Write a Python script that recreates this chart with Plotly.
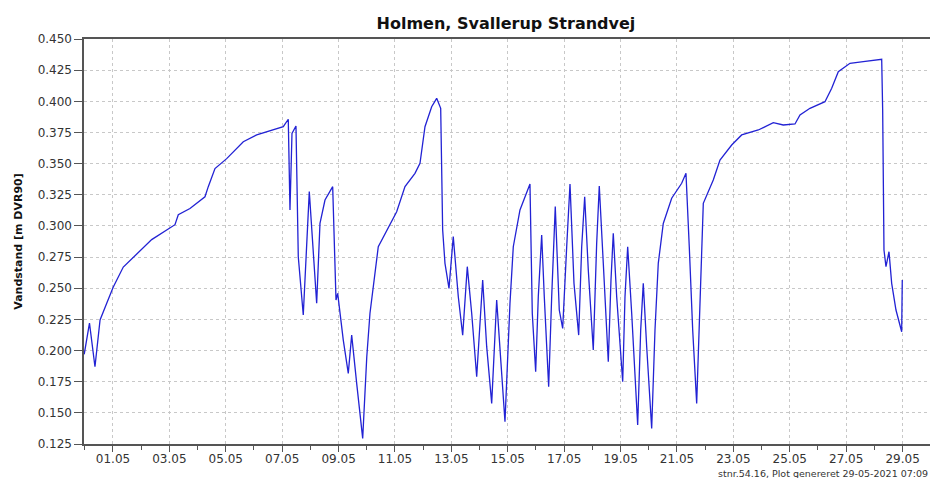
import plotly.graph_objects as go

TITLE = "Holmen, Svallerup Strandvej"
Y_TITLE = "Vandstand [m DVR90]"
FOOTNOTE = "stnr.54.16, Plot genereret 29-05-2021 07:09"

times = [
    "2021-04-29 23:30", "2021-04-30 04:00", "2021-04-30 08:40", "2021-04-30 10:30",
    "2021-04-30 13:00", "2021-04-30 18:40", "2021-05-01 00:15", "2021-05-01 08:46",
    "2021-05-01 17:17", "2021-05-02 08:56", "2021-05-03 04:46", "2021-05-03 07:35",
    "2021-05-03 17:31", "2021-05-04 06:17", "2021-05-04 09:06", "2021-05-04 14:48",
    "2021-05-05 00:46", "2021-05-05 14:54", "2021-05-06 02:18", "2021-05-06 13:36",
    "2021-05-07 00:56", "2021-05-07 05:11", "2021-05-07 06:38", "2021-05-07 08:21",
    "2021-05-07 11:44", "2021-05-07 13:42", "2021-05-07 17:57", "2021-05-07 23:04",
    "2021-05-08 05:21", "2021-05-08 08:10", "2021-05-08 12:26", "2021-05-08 18:59",
    "2021-05-08 21:48", "2021-05-08 23:14", "2021-05-09 04:00", "2021-05-09 08:15",
    "2021-05-09 11:09", "2021-05-09 15:24", "2021-05-09 20:31", "2021-05-10 00:00",
    "2021-05-10 02:43", "2021-05-10 09:47", "2021-05-10 16:57", "2021-05-11 01:26",
    "2021-05-11 08:31", "2021-05-11 17:01", "2021-05-11 21:17", "2021-05-12 01:32",
    "2021-05-12 07:14", "2021-05-12 11:29", "2021-05-12 14:54", "2021-05-12 16:35",
    "2021-05-12 18:33", "2021-05-12 21:58", "2021-05-13 01:36", "2021-05-13 05:53",
    "2021-05-13 09:37", "2021-05-13 13:32", "2021-05-13 17:17", "2021-05-13 21:32",
    "2021-05-14 02:38", "2021-05-14 06:03", "2021-05-14 10:18", "2021-05-14 14:33",
    "2021-05-14 18:13", "2021-05-14 21:37", "2021-05-15 01:52", "2021-05-15 04:41",
    "2021-05-15 10:23", "2021-05-15 18:53", "2021-05-15 20:51", "2021-05-15 23:44",
    "2021-05-16 01:58", "2021-05-16 04:51", "2021-05-16 07:04", "2021-05-16 10:48",
    "2021-05-16 13:22", "2021-05-16 16:25", "2021-05-16 19:49", "2021-05-16 22:43",
    "2021-05-17 02:08", "2021-05-17 04:57", "2021-05-17 08:21", "2021-05-17 12:20",
    "2021-05-17 14:54", "2021-05-17 17:27", "2021-05-17 20:31", "2021-05-18 00:46",
    "2021-05-18 03:39", "2021-05-18 05:52", "2021-05-18 09:17", "2021-05-18 13:32",
    "2021-05-18 15:50", "2021-05-18 17:47", "2021-05-18 20:41", "2021-05-19 01:48",
    "2021-05-19 03:45", "2021-05-19 06:03", "2021-05-19 09:27", "2021-05-19 14:33",
    "2021-05-19 17:07", "2021-05-19 19:19", "2021-05-19 22:13", "2021-05-20 02:28",
    "2021-05-20 05:17", "2021-05-20 08:05", "2021-05-20 12:20", "2021-05-20 19:29",
    "2021-05-21 04:00", "2021-05-21 07:39", "2021-05-21 10:28", "2021-05-21 13:22",
    "2021-05-21 16:46", "2021-05-21 19:35", "2021-05-21 22:24", "2021-05-22 06:53",
    "2021-05-22 12:36", "2021-05-22 22:33", "2021-05-23 07:03", "2021-05-23 21:12",
    "2021-05-24 09:58", "2021-05-24 18:28", "2021-05-25 04:25", "2021-05-25 08:41",
    "2021-05-25 17:11", "2021-05-26 05:57", "2021-05-26 11:40", "2021-05-26 17:17",
    "2021-05-27 03:14", "2021-05-27 14:33", "2021-05-28 06:13", "2021-05-28 07:03",
    "2021-05-28 08:10", "2021-05-28 09:52", "2021-05-28 12:26", "2021-05-28 14:43",
    "2021-05-28 18:23", "2021-05-28 23:14", "2021-05-28 23:44",
]

levels = [
    0.197, 0.222, 0.187, 0.205,
    0.2245, 0.238, 0.251, 0.267,
    0.275, 0.289, 0.301, 0.309,
    0.314, 0.3234, 0.3315, 0.346,
    0.354, 0.3676, 0.373, 0.3764,
    0.3796, 0.3856, 0.3128, 0.3743,
    0.3802, 0.2753, 0.2285, 0.3275,
    0.2379, 0.302, 0.3208, 0.3315,
    0.2405, 0.2459, 0.2084, 0.1817,
    0.2124, 0.1737, 0.1295, 0.195,
    0.2299, 0.2833, 0.2967, 0.3114,
    0.3315, 0.3422, 0.3502, 0.3796,
    0.3957, 0.4024, 0.3944, 0.2967,
    0.270, 0.2499, 0.2914, 0.2432,
    0.2124, 0.2673, 0.2299, 0.179,
    0.2566, 0.2031, 0.1576, 0.2405,
    0.1897, 0.1429, 0.2379, 0.2833,
    0.3128, 0.3336, 0.2299, 0.183,
    0.2432, 0.2927, 0.2432, 0.171,
    0.2432, 0.3155, 0.2325, 0.2178,
    0.2833, 0.3336, 0.2539, 0.2124,
    0.2833, 0.3234, 0.2646, 0.2004,
    0.286, 0.332, 0.270, 0.191,
    0.2566, 0.2941, 0.2432, 0.175,
    0.2432, 0.2833, 0.2299, 0.1402,
    0.2165, 0.2539, 0.2031, 0.1375,
    0.2165, 0.270, 0.302, 0.3222,
    0.3342, 0.3422, 0.2833, 0.2165,
    0.1576, 0.2432, 0.3181, 0.3369,
    0.3529, 0.3649, 0.373, 0.377,
    0.3828, 0.381, 0.3818, 0.389,
    0.3944, 0.3997, 0.4104, 0.4238,
    0.4305, 0.4318, 0.4337, 0.393,
    0.2807, 0.2673, 0.2793, 0.2539,
    0.2325, 0.2151, 0.2566,
]

x_range = ["2021-04-29 23:20", "2021-05-29 23:20"]
y_range = [0.125, 0.450]

FONT = "DejaVu Sans"
AXIS_COLOR = "#555555"
TEXT_COLOR = "#333333"
GRID_COLOR = "#c8c8c8"

fig = go.Figure()
fig.add_trace(go.Scatter(
    x=times, y=levels, mode="lines",
    line=dict(color="#2222d4", width=1.3),
    hoverinfo="skip", showlegend=False,
))

fig.update_layout(
    width=930, height=478, autosize=False,
    margin=dict(l=84, r=0, t=39, b=34),
    paper_bgcolor="white", plot_bgcolor="white",
    font=dict(family=FONT, size=12, color=TEXT_COLOR),
    title=dict(text="<b>" + TITLE + "</b>", x=0.544, xanchor="center",
               y=1 - 23 / 478, yanchor="middle",
               font=dict(family=FONT, size=16, color="#111111")),
)

fig.update_xaxes(
    type="date", range=x_range,
    tick0="2021-05-01", dtick=2 * 86400000, tickformat="%d.%m",
    ticks="outside", ticklen=6, tickcolor=AXIS_COLOR, tickwidth=1,
    ticklabelstandoff=-3,
    showline=True, linecolor=AXIS_COLOR, linewidth=1.6, mirror=True,
    showgrid=True, gridcolor=GRID_COLOR, griddash="3px,3px", gridwidth=1,
    minor=dict(dtick=86400000, tick0="2021-05-01", ticks="outside", ticklen=4,
               tickcolor=AXIS_COLOR, showgrid=False),
    tickfont=dict(family=FONT, size=12, color=TEXT_COLOR),
    zeroline=False, fixedrange=True,
)

fig.update_yaxes(
    range=y_range, tick0=0.125, dtick=0.025, tickformat=".3f",
    ticks="outside", ticklen=8, tickcolor=AXIS_COLOR, tickwidth=1,
    showline=True, linecolor=AXIS_COLOR, linewidth=1.6,
    showgrid=True, gridcolor=GRID_COLOR, griddash="3px,3px", gridwidth=1,
    tickfont=dict(family=FONT, size=12, color=TEXT_COLOR),
    title=dict(text="<b>" + Y_TITLE + "</b>", standoff=13,
               font=dict(family=FONT, size=11, color="#111111")),
    zeroline=False, fixedrange=True,
)

fig.add_annotation(
    text=FOOTNOTE, xref="paper", yref="paper", x=1, y=0,
    xanchor="right", yanchor="top", yshift=-22,
    showarrow=False, font=dict(family=FONT, size=9.5, color=TEXT_COLOR),
)

fig.write_html(
    "out.html",
    config={"displayModeBar": False, "staticPlot": True},
    post_script="document.body.style.margin='0';document.body.style.overflow='hidden';",
)
